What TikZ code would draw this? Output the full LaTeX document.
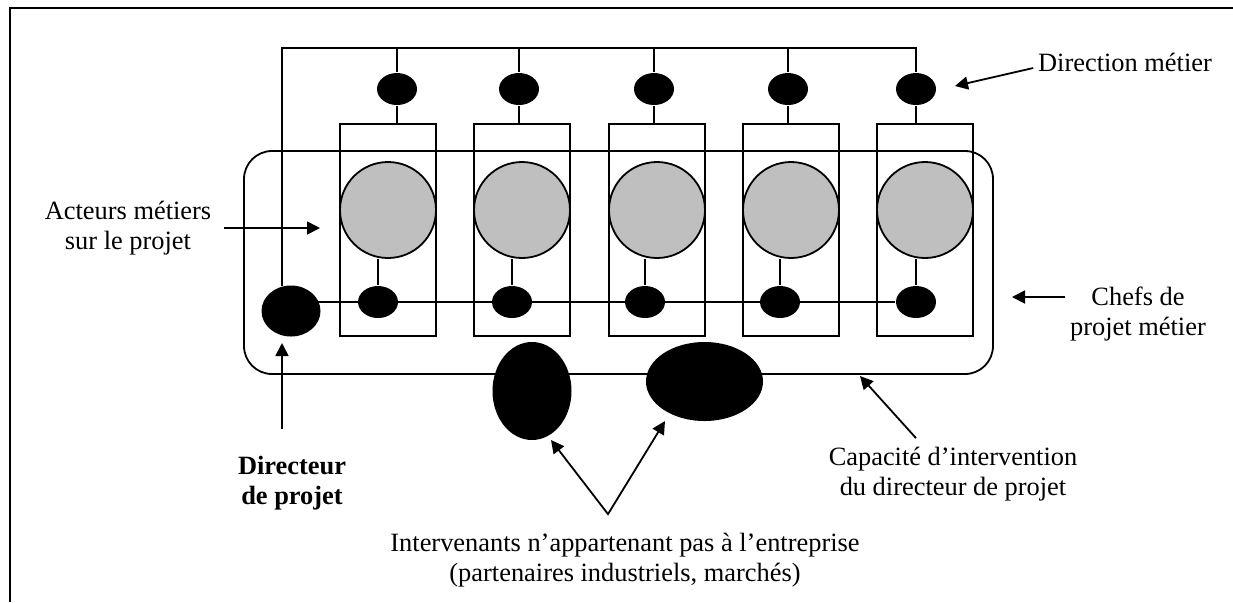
\documentclass[tikz,border=0pt]{standalone}
\usepackage{fontspec}
\setmainfont{Liberation Serif}
\usetikzlibrary{positioning, shapes.geometric}
\usetikzlibrary{arrows.meta}

\begin{document}
\begin{tikzpicture}[x=0.5pt, y=-0.5pt, line width=0.9pt,
    >={Triangle[length=6.5pt, width=6.5pt]},
    lbl/.style={align=center, inner sep=2pt, font=\fontsize{13.2}{15}\selectfont},
    dot/.style={ellipse, fill=black, inner sep=0pt, minimum width=20pt, minimum height=16pt},
    colbox/.style={draw, minimum width=48pt, minimum height=106pt, inner sep=0pt},
    acteur/.style={draw, circle, fill=black!25, minimum size=48pt, inner sep=0pt}]
        \useasboundingbox (0,0) rectangle (1233,602);
        \draw (10,602) -- (10,8) -- (1233,8);

        \node[draw, rounded corners=14pt, minimum width=374.5pt, minimum height=111.5pt] (cap) at (618.5,262.5) {};

        \node[colbox] (box1) at (388,230) {};
        \node[acteur] (act1) at (388,210) {};
        \node[dot] (dtop1) at (397,89) {};
        \node[dot] (chef1) at (378,302) {};
        \node[colbox] (box2) at (522,230) {};
        \node[acteur] (act2) at (522,210) {};
        \node[dot] (dtop2) at (519,89) {};
        \node[dot] (chef2) at (512,302) {};
        \node[colbox] (box3) at (657,230) {};
        \node[acteur] (act3) at (657,210) {};
        \node[dot] (dtop3) at (654,89) {};
        \node[dot] (chef3) at (645,302) {};
        \node[colbox] (box4) at (791,230) {};
        \node[acteur] (act4) at (791,210) {};
        \node[dot] (dtop4) at (788,89) {};
        \node[dot] (chef4) at (780,302) {};
        \node[colbox] (box5) at (925,230) {};
        \node[acteur] (act5) at (925,210) {};
        \node[dot] (dtop5) at (916,89) {};
        \node[dot] (chef5) at (916,302) {};

        \node[ellipse, fill=black, inner sep=0pt, minimum width=29.5pt, minimum height=25.5pt] (dp) at (291,311) {};
        \node[ellipse, fill=black, inner sep=0pt, minimum width=39.5pt, minimum height=49pt] (int1) at (532,391) {};
        \node[ellipse, fill=black, inner sep=0pt, minimum width=58.5pt, minimum height=39.5pt] (int2) at (704.5,381.5) {};

        \coordinate (bus) at (916,48);
        \draw (dp.110) |- (bus) -- (dtop5);
        \draw (dtop1) -- (dtop1 |- bus);
        \draw (dtop2) -- (dtop2 |- bus);
        \draw (dtop3) -- (dtop3 |- bus);
        \draw (dtop4) -- (dtop4 |- bus);
        \draw (dtop1) -- (dtop1 |- box1.north);
        \draw (dtop2) -- (dtop2 |- box2.north);
        \draw (dtop3) -- (dtop3 |- box3.north);
        \draw (dtop4) -- (dtop4 |- box4.north);
        \draw (dtop5) -- (dtop5 |- box5.north);
        \draw (act1.south -| chef1) -- (chef1);
        \draw (act2.south -| chef2) -- (chef2);
        \draw (act3.south -| chef3) -- (chef3);
        \draw (act4.south -| chef4) -- (chef4);
        \draw (act5.south -| chef5) -- (chef5);
        \draw (chef1 -| dp) -- (chef5);

        \node[lbl] (ldir) at (1125,62) {Direction métier};
        \node[lbl] (lact) at (128,228) {Acteurs métiers\\sur le projet};
        \node[lbl] (lchef) at (1138,314) {Chefs de\\projet métier};
        \node[lbl, font=\fontsize{13.2}{15}\selectfont\bfseries] (ldp) at (292,483) {Directeur\\de projet};
        \node[lbl] (lcap) at (953,474) {Capacité d'intervention\\du directeur de projet};
        \node[lbl] (lint) at (625,560) {Intervenants n'appartenant pas à l'entreprise\\(partenaires industriels, marchés)};

        \coordinate (tdir) at (955,86);
        \coordinate (tact) at (320,228);
        \coordinate (tchef) at (1012,297);
        \coordinate (tdp) at (282,343);
        \coordinate (tcap) at (860,376);
        \coordinate (tint1) at (551,440);
        \coordinate (tint2) at (665,421);

        \draw[->] ([yshift=-3pt]ldir.west) -- (tdir);
        \draw[->] ([xshift=4pt]lact.east) -- (tact);
        \draw[->] (lchef.west |- tchef) -- (tchef);
        \draw[->] (tdp |- ldp.north) ++(0,-22) -- (tdp);
        \draw[->] ([shift={(-18.5pt,2pt)}]lcap.north) -- (tcap);
        \draw[<->] (tint1) -- ([shift={(-8.5pt,7pt)}]lint.north) -- (tint2);
      \end{tikzpicture}
\end{document}
